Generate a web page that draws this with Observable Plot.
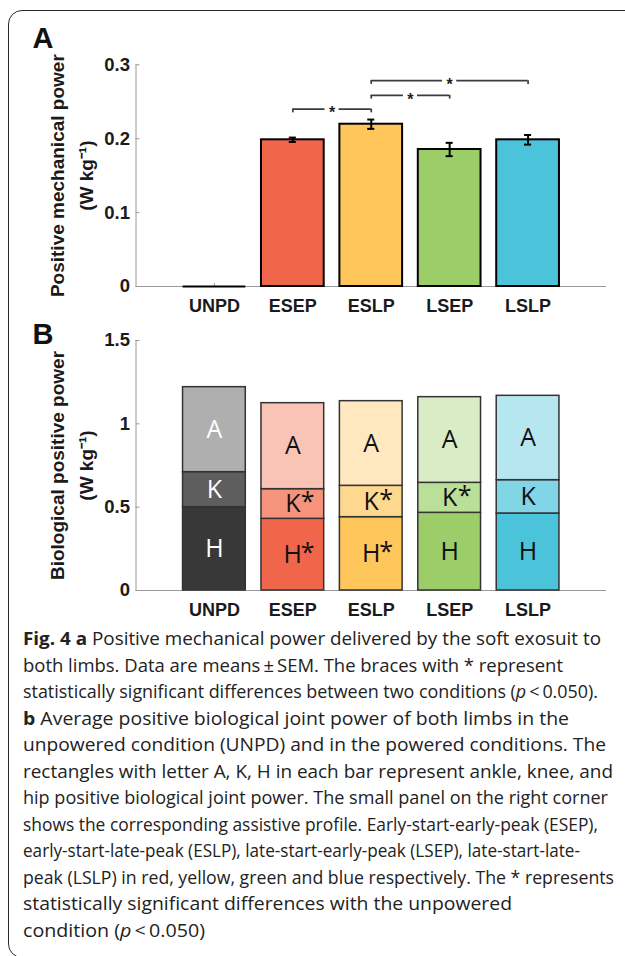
<!DOCTYPE html>
<html><head><meta charset="utf-8">
<script src="https://cdn.jsdelivr.net/npm/d3@7"></script>
<script src="https://cdn.jsdelivr.net/npm/@observablehq/plot@0.6"></script>
<style>
body{margin:0;background:#fff;width:625px;height:956px;overflow:hidden;position:relative;}
#box{position:absolute;left:8px;top:10px;width:640px;height:948px;border:1.5px solid #2a2a2a;border-radius:14px;box-sizing:border-box;}
#a{position:absolute;left:0;top:0;}
#b{position:absolute;left:0;top:318px;}
#cap{position:absolute;left:23px;top:625px;font-family:"Open Sans",sans-serif;font-size:18.5px;line-height:26.55px;color:#222;}
#cap div{white-space:nowrap;height:26.55px;}
#cap span{display:inline-block;transform-origin:0 50%;white-space:nowrap;}
svg{overflow:visible}
</style></head><body>
<div id="box"></div><div id="a"></div><div id="b"></div>
<div id="cap"></div>
<script>
// ---------- Panel A data ----------
const conditions = ["UNPD", "ESEP", "ESLP", "LSEP", "LSLP"];
const mechPower = [0, 0.1985, 0.2196, 0.1854, 0.1985];
const mechSEM = [0, 0.003, 0.0063, 0.009, 0.0065];
const barColors = ["#3a3a3a", "#F0664A", "#FEC65B", "#9BCD68", "#4BC3DA"];
const braceFrom = ["ESEP", "ESLP", "ESLP"];
const braceTo = ["ESLP", "LSEP", "LSLP"];
const braceLevel = [0.240, 0.2586, 0.2785];
const yTicksA = [0, 0.1, 0.2, 0.3];

// ---------- Panel B data ----------
const hipPower = [0.50, 0.43, 0.44, 0.466, 0.462];
const kneePower = [0.21, 0.178, 0.188, 0.18, 0.20];
const anklePower = [0.51, 0.516, 0.508, 0.514, 0.506];
const hipSig = [false, true, true, false, false];
const kneeSig = [false, true, true, true, false];
const ankleSig = [false, false, false, false, false];
const hipColors = ["#383838", "#F0664A", "#FEC65B", "#9BCD68", "#4BC3DA"];
const kneeColors = ["#5E5E5E", "#F5937C", "#FED88F", "#BADF99", "#80D5E6"];
const ankleColors = ["#B0AFAF", "#F9C3B6", "#FFE8BF", "#D9ECC5", "#B6E7F1"];
const jointLetters = ["H", "K", "A"];
const yTicksB = [0, 0.5, 1, 1.5];

// ---------- Caption ----------
const captionLines = [
  "<b>Fig. 4 a</b> Positive mechanical power delivered by the soft exosuit to",
  "both limbs. Data are means\u2009\u00b1\u2009SEM. The braces with * represent",
  "statistically significant differences between two conditions (<i>p</i>\u2009<\u20090.050).",
  "<b>b</b> Average positive biological joint power of both limbs in the",
  "unpowered condition (UNPD) and in the powered conditions. The",
  "rectangles with letter A, K, H in each bar represent ankle, knee, and",
  "hip positive biological joint power. The small panel on the right corner",
  "shows the corresponding assistive profile. Early-start-early-peak (ESEP),",
  "early-start-late-peak (ESLP), late-start-early-peak (LSEP), late-start-late-",
  "peak (LSLP) in red, yellow, green and blue respectively. The * represents",
  "statistically significant differences with the unpowered",
  "condition (<i>p</i>\u2009<\u20090.050)"
];
const captionLineEnds = [601, 563, 598, 569, 606, 613, 608, 598, 580, 614, 512, 205];

const FONT = "'Liberation Sans', Arial, Helvetica, sans-serif";
const AX = "#9a9a9a";
const HW = 0.4; // half bar width in category units
const TICKPOS = [1, 2, 3, 4, 5];

function axes(yTicks, tickLenY, tickLenX) {
  return [
    Plot.ruleY([0], {stroke: AX, strokeWidth: 1}),
    Plot.ruleX([0], {stroke: AX, strokeWidth: 1}),
    Plot.ruleY(yTicks, {x1: 0, x2: tickLenY, stroke: AX}),
    Plot.ruleX(TICKPOS, {y1: 0, y2: tickLenX, stroke: AX}),
    Plot.axisY({ticks: yTicks, tickSize: 0, tickPadding: 6, tickFormat: d => String(d),
      fontSize: 18.5, fontWeight: "bold", fill: "#1a1a1a"}),
    Plot.axisX({ticks: TICKPOS, tickSize: 0, tickPadding: 12.5, tickFormat: d => conditions[d - 1],
      fontSize: 18, fontWeight: "bold", fill: "#1a1a1a"})
  ];
}
function yTitle(line1) {
  return [
    Plot.text([line1], {text: d => d, frameAnchor: "left", dx: -78.5, rotate: -90, textAnchor: "middle",
      lineAnchor: "middle", fontSize: 19, fontWeight: "bold", fill: "#1a1a1a"}),
    Plot.text(["(W kg\u207B\u00B9)"], {text: d => d, frameAnchor: "left", dx: -49.5, rotate: -90, textAnchor: "middle",
      lineAnchor: "middle", fontSize: 19, fontWeight: "bold", fill: "#1a1a1a"})
  ];
}

// ---------- Build Panel A ----------
const rowsA = conditions.map((c, i) => ({c, pos: i + 1, v: mechPower[i], e: mechSEM[i], fill: barColors[i]}));
const barsA = rowsA.filter(d => d.v > 0);
const zeroA = rowsA.filter(d => d.v === 0);
const braceRows = braceFrom.map((f, k) => {
  const x1 = conditions.indexOf(f) + 1, x2 = conditions.indexOf(braceTo[k]) + 1;
  return {x1, x2, mid: (x1 + x2) / 2, y: braceLevel[k]};
});
const GAP = 0.09, DROP = 0.005;

const plotA = Plot.plot({
  width: 625, height: 318,
  marginLeft: 135.5, marginRight: 19, marginTop: 64.3, marginBottom: 32,
  style: {background: "transparent", fontFamily: FONT, overflow: "visible"},
  x: {domain: [0, 6], label: null},
  y: {domain: [0, 0.3], label: null},
  color: {type: "identity"},
  marks: [
    ...axes(yTicksA, 0.05, 0.004),
    Plot.rect(barsA, {x1: d => d.pos - HW, x2: d => d.pos + HW, y1: d => 0, y2: "v",
      fill: "fill", stroke: "#000", strokeWidth: 2}),
    Plot.ruleY(zeroA, {y: "v", x1: d => d.pos - HW, x2: d => d.pos + HW, stroke: "#000", strokeWidth: 2}),
    Plot.ruleX(barsA, {x: "pos", y1: d => d.v - d.e, y2: d => d.v + d.e, stroke: "#000", strokeWidth: 2}),
    Plot.ruleY(barsA, {y: d => d.v + d.e, x1: d => d.pos - 0.045, x2: d => d.pos + 0.045, stroke: "#000", strokeWidth: 2}),
    Plot.ruleY(barsA, {y: d => d.v - d.e, x1: d => d.pos - 0.045, x2: d => d.pos + 0.045, stroke: "#000", strokeWidth: 2}),
    // significance braces
    Plot.ruleX(braceRows, {x: "x1", y1: d => d.y - DROP, y2: "y", stroke: "#3c3c3c", strokeWidth: 1.7}),
    Plot.ruleX(braceRows, {x: "x2", y1: d => d.y - DROP, y2: "y", stroke: "#3c3c3c", strokeWidth: 1.7}),
    Plot.ruleY(braceRows, {y: "y", x1: "x1", x2: d => d.mid - GAP, stroke: "#3c3c3c", strokeWidth: 1.7}),
    Plot.ruleY(braceRows, {y: "y", x1: d => d.mid + GAP, x2: "x2", stroke: "#3c3c3c", strokeWidth: 1.7}),
    Plot.text(braceRows, {x: "mid", y: "y", text: d => "*", fontSize: 16, fontWeight: "bold", dy: 4, fill: "#222"}),
    ...yTitle("Positive mechanical power"),
    Plot.text(["A"], {text: d => d, frameAnchor: "top-left", dx: 32 - 135.5, dy: 27 - 64.3,
      textAnchor: "start", lineAnchor: "top", fontSize: 29, fontWeight: "bold", fill: "#111"})
  ]
});
document.getElementById("a").append(plotA);

// ---------- Build Panel B ----------
const rowsB = [];
conditions.forEach((c, i) => {
  const vals = [hipPower[i], kneePower[i], anklePower[i]];
  const fills = [hipColors[i], kneeColors[i], ankleColors[i]];
  const sig = [hipSig[i], kneeSig[i], ankleSig[i]];
  const cum = d3.cumsum(vals);
  vals.forEach((v, j) => {
    rowsB.push({c, pos: i + 1, y1: cum[j] - v, y2: cum[j], fill: fills[j],
      letter: jointLetters[j], star: sig[j], ink: i === 0 ? "#ffffff" : "#111111"});
  });
});
const LETTER_FONT = "'Open Sans', 'Noto Sans', sans-serif";

const plotB = Plot.plot({
  width: 625, height: 312,
  marginLeft: 135.5, marginRight: 19, marginTop: 22, marginBottom: 40,
  style: {background: "transparent", fontFamily: FONT, overflow: "visible"},
  x: {domain: [0, 6], label: null},
  y: {domain: [0, 1.5], label: null},
  color: {type: "identity"},
  marks: [
    ...axes(yTicksB, 0.05, 0.02),
    Plot.rect(rowsB, {x1: d => d.pos - HW, x2: d => d.pos + HW, y1: "y1", y2: "y2",
      fill: "fill", stroke: "#333", strokeWidth: 1.5}),
    Plot.text(rowsB, {x: "pos", y: d => (d.y1 + d.y2) / 2, text: "letter", fill: "ink",
      fontSize: 25, fontFamily: LETTER_FONT}),
    Plot.text(rowsB.filter(d => d.star), {x: "pos", y: d => (d.y1 + d.y2) / 2, text: d => "*", fill: "ink",
      fontSize: 25, fontFamily: LETTER_FONT, textAnchor: "start", dx: 8, dy: -2}),
    ...yTitle("Biological positive power"),
    Plot.text(["B"], {text: d => d, frameAnchor: "top-left", dx: 32 - 135.5, dy: 5 - 22,
      textAnchor: "start", lineAnchor: "top", fontSize: 29, fontWeight: "bold", fill: "#111"})
  ]
});
document.getElementById("b").append(plotB);

// ---------- Caption (each line fitted to the reference line length) ----------
const cap = document.getElementById("cap");
captionLines.forEach((t, k) => {
  const d = document.createElement("div");
  const s = document.createElement("span");
  s.innerHTML = t;
  d.append(s);
  cap.append(d);
  const w = s.getBoundingClientRect().width;
  const target = captionLineEnds[k] - 23;
  s.style.transform = `scaleX(${target / w})`;
});
</script>
</body></html>
